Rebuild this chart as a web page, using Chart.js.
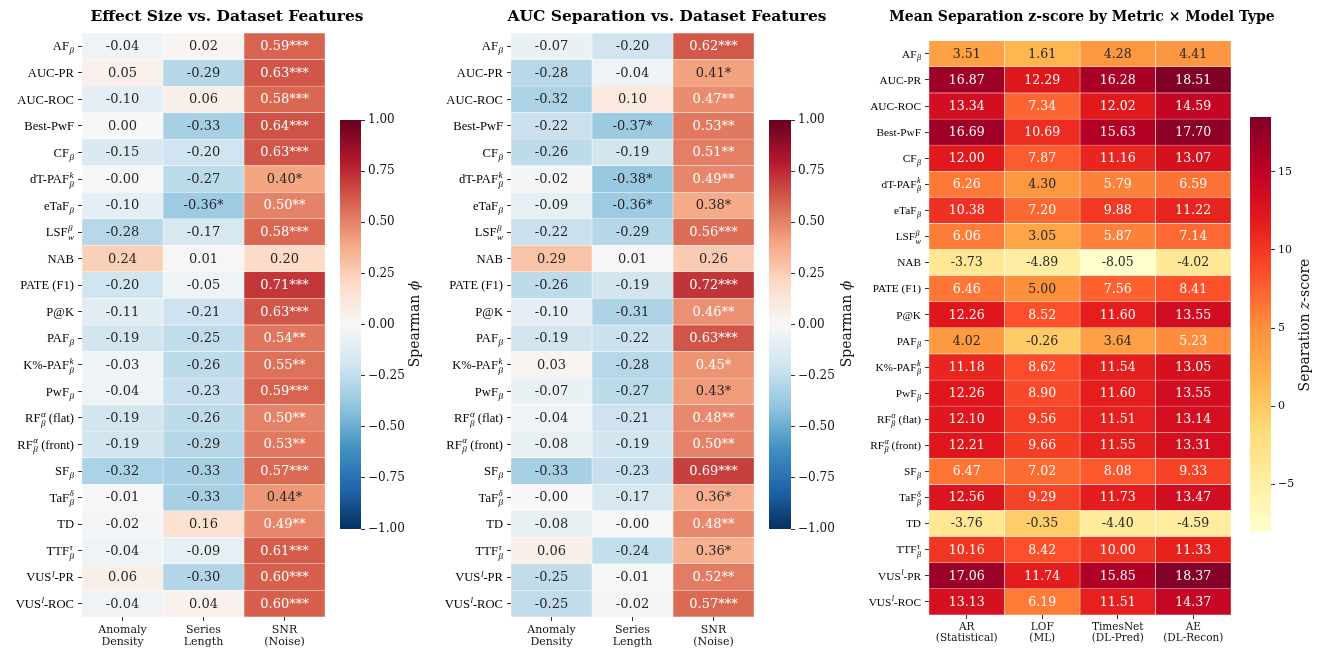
<!DOCTYPE html>
<html><head><meta charset="utf-8">
<script src="https://cdn.jsdelivr.net/npm/chart.js@4.4.1/dist/chart.umd.min.js"></script>
<style>
html,body{margin:0;padding:0;background:#fff;}
body{width:1321px;height:651px;position:relative;overflow:hidden;}
canvas{position:absolute;}
</style></head><body>
<canvas id="h1" width="454" height="651" style="left:0px;top:0px"></canvas>
<canvas id="c1" width="110" height="450" style="left:330px;top:100px"></canvas>
<canvas id="h2" width="474" height="651" style="left:430px;top:0px"></canvas>
<canvas id="c2" width="110" height="450" style="left:759px;top:100px"></canvas>
<canvas id="h3" width="478" height="651" style="left:843px;top:0px"></canvas>
<canvas id="c3" width="81" height="450" style="left:1240px;top:100px"></canvas>
<script>
// ---------------- DATA ----------------
const metrics = ['AF_β','AUC-PR','AUC-ROC','Best-PwF','CF_β','dT-PAF^k_β','eTaF_β','LSF^β_w','NAB','PATE (F1)','P@K','PAF_β','K%-PAF^k_β','PwF_β','RF^α_β (flat)','RF^α_β (front)','SF_β','TaF^δ_β','TD','TTF^τ_β','VUS^l-PR','VUS^l-ROC'];
const featureCols = ['Anomaly\nDensity','Series\nLength','SNR\n(Noise)'];
const modelCols = ['AR\n(Statistical)','LOF\n(ML)','TimesNet\n(DL-Pred)','AE\n(DL-Recon)'];

// Effect size vs dataset features (Spearman)
const effDensity = [-0.04,0.05,-0.10,0.00,-0.15,-0,-0.10,-0.28,0.24,-0.20,-0.11,-0.19,-0.03,-0.04,-0.19,-0.19,-0.32,-0.01,-0.02,-0.04,0.06,-0.04];
const effLength  = [0.02,-0.29,0.06,-0.33,-0.20,-0.27,-0.36,-0.17,0.01,-0.05,-0.21,-0.25,-0.26,-0.23,-0.26,-0.29,-0.33,-0.33,0.16,-0.09,-0.30,0.04];
const effSNR     = [0.59,0.63,0.58,0.64,0.63,0.40,0.50,0.58,0.20,0.71,0.63,0.54,0.55,0.59,0.50,0.53,0.57,0.44,0.49,0.61,0.60,0.60];
const effDensitySig = ['','','','','','','','','','','','','','','','','','','','','',''];
const effLengthSig  = ['','','','','','','*','','','','','','','','','','','','','','',''];
const effSNRSig     = ['***','***','***','***','***','*','**','***','','***','***','**','**','***','**','**','***','*','**','***','***','***'];

// AUC separation vs dataset features (Spearman)
const aucDensity = [-0.07,-0.28,-0.32,-0.22,-0.26,-0.02,-0.09,-0.22,0.29,-0.26,-0.10,-0.19,0.03,-0.07,-0.04,-0.08,-0.33,-0,-0.08,0.06,-0.25,-0.25];
const aucLength  = [-0.20,-0.04,0.10,-0.37,-0.19,-0.38,-0.36,-0.29,0.01,-0.19,-0.31,-0.22,-0.28,-0.27,-0.21,-0.19,-0.23,-0.17,-0,-0.24,-0.01,-0.02];
const aucSNR     = [0.62,0.41,0.47,0.53,0.51,0.49,0.38,0.56,0.26,0.72,0.46,0.63,0.45,0.43,0.48,0.50,0.69,0.36,0.48,0.36,0.52,0.57];
const aucDensitySig = ['','','','','','','','','','','','','','','','','','','','','',''];
const aucLengthSig  = ['','','','*','','*','*','','','','','','','','','','','','','','',''];
const aucSNRSig     = ['***','*','**','**','**','**','*','***','','***','**','***','*','*','**','**','***','*','**','*','**','***'];

// Mean separation z-score by metric x model type
const zAR       = [3.51,16.87,13.34,16.69,12.00,6.26,10.38,6.06,-3.73,6.46,12.26,4.02,11.18,12.26,12.10,12.21,6.47,12.56,-3.76,10.16,17.06,13.13];
const zLOF      = [1.61,12.29,7.34,10.69,7.87,4.30,7.20,3.05,-4.89,5.00,8.52,-0.26,8.62,8.90,9.56,9.66,7.02,9.29,-0.35,8.42,11.74,6.19];
const zTimesNet = [4.28,16.28,12.02,15.63,11.16,5.79,9.88,5.87,-8.05,7.56,11.60,3.64,11.54,11.60,11.51,11.55,8.08,11.73,-4.40,10.00,15.85,11.51];
const zAE       = [4.41,18.51,14.59,17.70,13.07,6.59,11.22,7.14,-4.02,8.41,13.55,5.23,13.05,13.55,13.14,13.31,9.33,13.47,-4.59,11.33,18.37,14.37];

const spearmanTicks = [-1,-0.75,-0.5,-0.25,0,0.25,0.5,0.75,1];
const zTicks = [-5,0,5,10,15];

// ---------------- COLORMAPS ----------------
const RDBU_R = ['#053061','#2166ac','#4393c3','#92c5de','#d1e5f0','#f7f7f7','#fddbc7','#f4a582','#d6604d','#b2182b','#67001f'];
const YLORRD = ['#ffffcc','#ffeda0','#fed976','#feb24c','#fd8d3c','#fc4e2a','#e31a1c','#bd0026','#800026'];
function hex2rgb(h){return [parseInt(h.slice(1,3),16),parseInt(h.slice(3,5),16),parseInt(h.slice(5,7),16)];}
function makeCmap(list){
  const st = list.map(hex2rgb);
  return t => {
    t = Math.max(0, Math.min(1, t));
    const n = st.length - 1, p = t * n, i = Math.min(Math.floor(p), n - 1), f = p - i;
    return st[i].map((c, k) => c + (st[i+1][k] - c) * f);
  };
}
const rdbu = makeCmap(RDBU_R), ylorrd = makeCmap(YLORRD);
const css = c => `rgb(${Math.round(c[0])},${Math.round(c[1])},${Math.round(c[2])})`;
function lum(c){
  const f = v => { v /= 255; return v <= 0.03928 ? v / 12.92 : Math.pow((v + 0.055) / 1.055, 2.4); };
  return 0.2126 * f(c[0]) + 0.7152 * f(c[1]) + 0.0722 * f(c[2]);
}
const fmt2 = v => ((v < 0 || Object.is(v, -0)) ? '-' : '') + Math.abs(v).toFixed(2);
const MINUS = '\u2212';

// ---------------- RICH LABELS ----------------
function parseLabel(s){
  const segs = []; let cur = '';
  for (let i = 0; i < s.length; i++) {
    const c = s[i];
    if (c === '^' || c === '_') {
      if (cur) { segs.push({t: cur}); cur = ''; }
      let last = segs[segs.length - 1];
      if (!last || !last.script) { last = {script: true, sup: '', sub: ''}; segs.push(last); }
      if (c === '^') last.sup = s[++i]; else last.sub = s[++i];
    } else cur += c;
  }
  if (cur) segs.push({t: cur});
  return segs;
}
function drawRich(ctx, label, xRight, yBase, size){
  const segs = parseLabel(label);
  const bf = `${size}px "Liberation Serif"`, sf = `italic ${(size*0.72).toFixed(1)}px "Liberation Serif"`;
  let total = 0;
  segs.forEach(s => {
    if (s.script) { ctx.font = sf; s.w = Math.max(ctx.measureText(s.sup).width, ctx.measureText(s.sub).width) + 0.5; }
    else { ctx.font = bf; s.w = ctx.measureText(s.t).width; }
    total += s.w;
  });
  let x = xRight - total;
  ctx.textAlign = 'left'; ctx.textBaseline = 'alphabetic'; ctx.fillStyle = '#000';
  segs.forEach(s => {
    if (s.script) {
      ctx.font = sf;
      if (s.sup) ctx.fillText(s.sup, x + 0.5, yBase - size * (s.sub ? 0.42 : 0.38));
      if (s.sub) ctx.fillText(s.sub, x + 0.5, yBase + size * (s.sup ? 0.3 : 0.24));
    } else { ctx.font = bf; ctx.fillText(s.t, x, yBase); }
    x += s.w;
  });
}

// ---------------- HEATMAP ----------------
function heatmap(id, o){
  const nC = o.cols.length;
  const datasets = o.values.map((col, j) => ({
    label: o.cols[j].replace('\n', ' '),
    data: col.map(() => [j, j + 1]),
    backgroundColor: col.map(v => css(o.cmap((v - o.vmin) / (o.vmax - o.vmin)))),
    borderColor: '#ffffff', borderWidth: 0.5, borderSkipped: false,
    barPercentage: 1, categoryPercentage: 1, grouped: false,
    xAxisID: 'x', yAxisID: 'y'
  }));
  const cellText = {
    id: 'cellText',
    afterDatasetsDraw(chart){
      const ctx = chart.ctx; ctx.save();
      ctx.font = `${o.cellSize}px "DejaVu Serif"`; ctx.textAlign = 'center'; ctx.textBaseline = 'middle';
      o.values.forEach((col, j) => {
        chart.getDatasetMeta(j).data.forEach((el, i) => {
          const p = el.getProps(['x', 'y', 'base'], true);
          const v = col[i];
          const c = o.cmap((v - o.vmin) / (o.vmax - o.vmin));
          ctx.fillStyle = lum(c) > 0.408 ? '#262626' : '#ffffff';
          ctx.fillText(o.fmt(v) + (o.sig ? o.sig[j][i] : ''), (p.x + p.base) / 2, p.y + 0.5);
        });
      });
      ctx.restore();
    }
  };
  const rowLabels = {
    id: 'rowLabels',
    afterDraw(chart){
      const ctx = chart.ctx, ys = chart.scales.y, left = chart.chartArea.left;
      ctx.save();
      o.rows.forEach((r, i) => drawRich(ctx, r, left - 8, ys.getPixelForTick(i) + o.labelSize * 0.33, o.labelSize));
      ctx.restore();
    }
  };
  return new Chart(document.getElementById(id), {
    type: 'bar',
    data: {labels: o.rows, datasets},
    plugins: [cellText, rowLabels],
    options: {
      indexAxis: 'y', responsive: false, animation: false,
      layout: {padding: 0},
      plugins: {
        legend: {display: false}, tooltip: {enabled: false},
        title: {display: true, text: o.title, color: '#000', font: {family: 'DejaVu Serif', size: o.titleSize, weight: 'bold', lineHeight: 1.2}, padding: o.titlePad}
      },
      scales: {
        x: {type: 'linear', axis: 'x', position: 'bottom', min: 0, max: nC, offset: false,
            grid: {display: true, drawOnChartArea: false, drawTicks: true, tickLength: 4, color: '#333', lineWidth: 1},
            border: {display: false},
            ticks: {autoSkip: false, maxRotation: 0, minRotation: 0, padding: 3, color: '#111',
                    font: {family: 'DejaVu Serif', size: o.colSize, lineHeight: o.colLH},
                    callback: (v, i) => o.cols[i] ? o.cols[i].split('\n') : ''},
            afterBuildTicks: ax => { ax.ticks = o.cols.map((_, i) => ({value: i + 0.5})); },
            afterFit: ax => { ax.height = o.xH; }},
        y: {type: 'category', axis: 'y', position: 'left', offset: true,
            grid: {display: true, offset: false, drawOnChartArea: false, drawTicks: true, tickLength: 4, color: '#333', lineWidth: 1},
            border: {display: false},
            ticks: {display: false},
            afterFit: ax => { ax.width = o.yW; }},
        sp: {type: 'linear', axis: 'y', position: 'right', display: true,
             grid: {display: false, drawTicks: false}, border: {display: false}, ticks: {display: false},
             afterFit: ax => { ax.width = o.spW; }}
      }
    }
  });
}

// ---------------- COLORBAR ----------------
function colorbar(id, o){
  const label = {
    id: 'cbLabel',
    afterDraw(chart){
      const ctx = chart.ctx; ctx.save();
      ctx.translate(o.labelX, o.labelY); ctx.rotate(-Math.PI / 2);
      ctx.textBaseline = 'middle'; ctx.textAlign = 'left'; ctx.fillStyle = '#111';
      const fonts = o.label.map(p => `${p.it ? 'italic ' : ''}${o.labelSize}px "DejaVu Serif"`);
      let total = 0;
      const ws = o.label.map((p, k) => { ctx.font = fonts[k]; const w = ctx.measureText(p.t).width; total += w; return w; });
      let x = -total / 2;
      o.label.forEach((p, k) => { ctx.font = fonts[k]; ctx.fillText(p.t, x, 0); x += ws[k]; });
      ctx.restore();
    }
  };
  return new Chart(document.getElementById(id), {
    type: 'bar',
    data: {labels: [''], datasets: [{
      data: [[o.vmin, o.vmax]],
      backgroundColor: c => {
        const a = c.chart.chartArea; if (!a) return '#ccc';
        const g = c.chart.ctx.createLinearGradient(0, a.bottom, 0, a.top);
        for (let k = 0; k <= 64; k++) g.addColorStop(k / 64, css(o.cmap(k / 64)));
        return g;
      },
      borderWidth: 0, barPercentage: 1, categoryPercentage: 1
    }]},
    plugins: [label],
    options: {
      responsive: false, animation: false,
      layout: {padding: {left: o.padL, top: o.padT, bottom: o.padB, right: 0}},
      plugins: {legend: {display: false}, tooltip: {enabled: false}, title: {display: false}},
      scales: {
        x: {display: false},
        y: {type: 'linear', position: 'right', min: o.vmin, max: o.vmax,
            grid: {display: true, drawOnChartArea: false, drawTicks: true, tickLength: 4, color: '#333', lineWidth: 1},
            border: {display: false},
            ticks: {padding: 3, color: '#111', font: {family: 'DejaVu Serif', size: o.tickSize}, callback: o.tickFmt},
            afterBuildTicks: ax => { ax.ticks = o.ticks.map(v => ({value: v})); },
            afterFit: ax => { ax.width = o.axW; }}
      }
    }
  });
}

const spFmt = v => (v < -1e-9 ? MINUS : '') + Math.abs(v).toFixed(2);
const zFmt = v => (v < 0 ? MINUS : '') + Math.abs(v).toFixed(0);
const zAll = [].concat(zAR, zLOF, zTimesNet, zAE);
const zMin = Math.min(...zAll), zMax = Math.max(...zAll);

heatmap('h1', {title: 'Effect Size vs. Dataset Features', titleSize: 15.5, titlePad: {top: 8, bottom: 6.4},
  rows: metrics, cols: featureCols, values: [effDensity, effLength, effSNR], sig: [effDensitySig, effLengthSig, effSNRSig],
  cmap: rdbu, vmin: -1, vmax: 1, fmt: fmt2, cellSize: 13, labelSize: 12.6, colSize: 11, colLH: 1.09,
  yW: 82, xH: 34, spW: 129});
colorbar('c1', {cmap: rdbu, vmin: -1, vmax: 1, ticks: spearmanTicks, tickFmt: spFmt, tickSize: 12,
  padL: 10, padT: 20, padB: 21, axW: 79, label: [{t: 'Spearman '}, {t: 'ϕ', it: true}], labelSize: 14, labelX: 85, labelY: 224});

heatmap('h2', {title: 'AUC Separation vs. Dataset Features', titleSize: 15.5, titlePad: {top: 8, bottom: 6.4},
  rows: metrics, cols: featureCols, values: [aucDensity, aucLength, aucSNR], sig: [aucDensitySig, aucLengthSig, aucSNRSig],
  cmap: rdbu, vmin: -1, vmax: 1, fmt: fmt2, cellSize: 13, labelSize: 12.6, colSize: 11, colLH: 1.09,
  yW: 81, xH: 34, spW: 150});
colorbar('c2', {cmap: rdbu, vmin: -1, vmax: 1, ticks: spearmanTicks, tickFmt: spFmt, tickSize: 12,
  padL: 10, padT: 20, padB: 21, axW: 78, label: [{t: 'Spearman '}, {t: 'ϕ', it: true}], labelSize: 14, labelX: 88, labelY: 224});

heatmap('h3', {title: 'Mean Separation z-score by Metric × Model Type', titleSize: 14, titlePad: {top: 9, bottom: 15},
  rows: metrics, cols: modelCols, values: [zAR, zLOF, zTimesNet, zAE], sig: null,
  cmap: ylorrd, vmin: zMin, vmax: zMax, fmt: fmt2, cellSize: 12.5, labelSize: 11.3, colSize: 10.5, colLH: 1.05,
  yW: 86, xH: 36, spW: 90});
colorbar('c3', {cmap: ylorrd, vmin: zMin, vmax: zMax, ticks: zTicks, tickFmt: zFmt, tickSize: 11,
  padL: 10, padT: 17, padB: 18, axW: 50, label: [{t: 'Separation '}, {t: 'z', it: true}, {t: '-score'}], labelSize: 14, labelX: 65, labelY: 225});
</script>
</body></html>
